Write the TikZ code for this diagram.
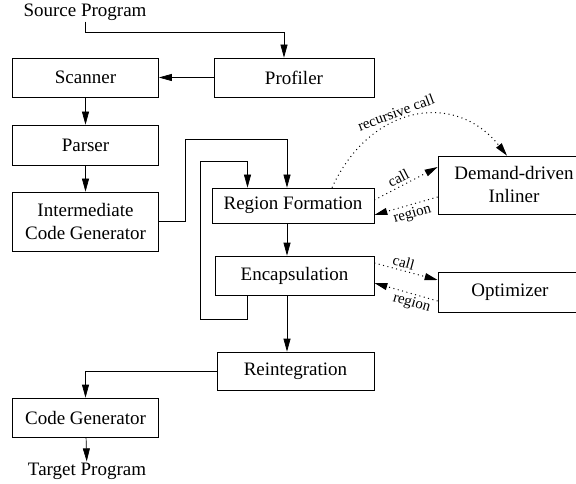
\documentclass[tikz,border=0pt]{standalone}
\usepackage{fontspec}
\setmainfont{Liberation Serif}
\usetikzlibrary{arrows.meta}

\begin{document}
\begin{tikzpicture}[x=1pt, y=-1pt, line width=0.7pt,
    font=\fontsize{19}{23}\selectfont,
    >={Triangle[length=13pt,width=7pt]},
    box/.style={draw, rectangle, align=center, inner sep=0pt},
    txt/.style={inner sep=1pt},
    msg/.style={->, line width=1pt, dash pattern=on 1pt off 3.5pt},
    lbl/.style={font=\fontsize{15}{17}\selectfont, sloped, inner sep=2.5pt}]
  \useasboundingbox (0,0) rectangle (576,484);

  \node[txt] (src) at (85,12) {Source Program};
  \node[box, minimum width=160pt, minimum height=39pt] (profiler) at (294,77.5) {Profiler};
  \node[box, minimum width=146pt, minimum height=39pt] (scanner)  at (85.5,77.5) {Scanner};
  \node[box, minimum width=146pt, minimum height=40pt] (parser)   at (85.5,145) {Parser};
  \node[box, minimum width=146pt, minimum height=59pt] (icg)      at (85.5,221.5) {Intermediate\\Code Generator};
  \node[box, minimum width=162pt, minimum height=35pt] (region)   at (293,205.5) {Region Formation};
  \node[box, minimum width=159pt, minimum height=39pt] (encap)    at (294.5,275.5) {Encapsulation};
  \node[box, minimum width=152pt, minimum height=58pt] (inliner)  at (514,185) {Demand-driven\\Inliner};
  \node[box, minimum width=144pt, minimum height=40pt] (optim)    at (510,292) {Optimizer};
  \node[box, minimum width=157pt, minimum height=38pt] (reint)    at (295.5,371) {Reintegration};
  \node[box, minimum width=146pt, minimum height=39pt] (codegen)  at (85.5,417.5) {Code Generator};
  \node[txt] (target) at (87,471) {Target Program};

  \draw[->] (src.south) -- ++(0,11) -| ([xshift=-10pt]profiler.north);
  \draw[->] (profiler) -- (scanner);
  \draw[->] (scanner) -- (parser);
  \draw[->] (parser) -- (icg);
  \draw[->] (icg.east) -- ++(26,0) -- ++(0,-82) -| ([xshift=-6pt]region.north);
  \draw[->] ([xshift=-47pt]encap.south) -- ++(0,24) -- ++(-47.5,0) -- ++(0,-158) -| ([xshift=-45.5pt]region.north);
  \draw[->] ([xshift=-6pt]region.south) -- ([xshift=-6pt]region.south |- encap.north);
  \draw[->] ([xshift=-7.5pt]encap.south) -- ([xshift=-7.5pt]encap.south |- reint.north);
  \draw[->] (reint.west) -| (codegen.north);
  \draw[->] (codegen) -- (target);

  \draw[msg] ([xshift=39pt]region.north) .. controls (370,105) and (455,90) .. node[lbl, above, pos=0.42] {recursive call} ([xshift=-7pt]inliner.north);
  \draw[msg] ([yshift=5.5pt]region.east) -- node[lbl, above, pos=0.44] {call} ([yshift=18pt]inliner.west);
  \draw[msg] ([yshift=-12pt]inliner.west) -- node[lbl, below, pos=0.44] {region} ([yshift=-9.5pt]region.east);
  \draw[msg] ([yshift=12.5pt]encap.east) -- node[lbl, above, pos=0.43] {call} ([yshift=12pt]optim.west);
  \draw[msg] ([yshift=-9pt]optim.west) -- node[lbl, below, pos=0.37] {region} ([yshift=-7.5pt]encap.east);
\end{tikzpicture}
\end{document}
